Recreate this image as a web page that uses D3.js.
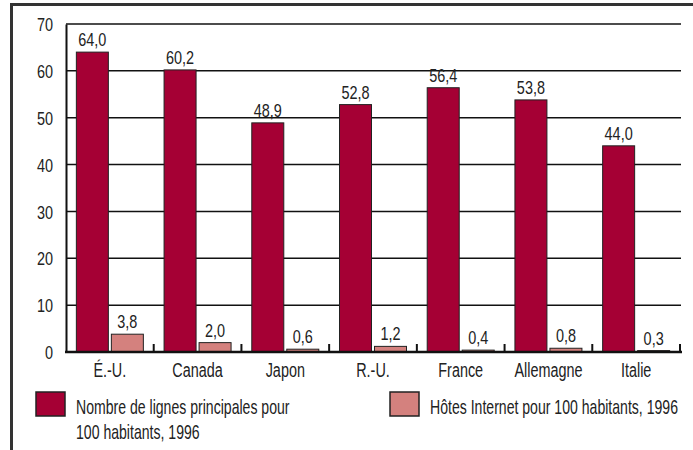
<!DOCTYPE html>
<html>
<head>
<meta charset="utf-8">
<script src="https://cdn.jsdelivr.net/npm/d3@7"></script>
<style>
  body { margin: 0; background: #fff; }
  text { font-family: "Liberation Sans", Arial, sans-serif; fill: #222; }
</style>
</head>
<body>
<div id="chart"></div>
<script>
// data
var pays = ["É.-U.", "Canada", "Japon", "R.-U.", "France", "Allemagne", "Italie"];
var lignes = [64.0, 60.2, 48.9, 52.8, 56.4, 53.8, 44.0];
var hotes = [3.8, 2.0, 0.6, 1.2, 0.4, 0.8, 0.3];
var yTicks = [0, 10, 20, 30, 40, 50, 60, 70];
var legende = ["Nombre de lignes principales pour|100 habitants, 1996", "Hôtes Internet pour 100 habitants, 1996"];

var fmt = d => d.toFixed(1).replace(".", ",");
var FONT = "Liberation Sans, Arial, sans-serif";

var svg = d3.select("#chart")
    .append("svg")
    .attr("width", 693)
    .attr("height", 450);

// outer frame (top + left)
svg.append("path")
    .attr("d", "M11.5,460 L11.5,4.5 L700,4.5")
    .attr("fill", "none")
    .attr("stroke", "#333")
    .attr("stroke-width", 3);

var x = d3.scaleBand()
    .domain(pays)
    .range([66, 680])
    .padding(0);

var y = d3.scaleLinear()
    .domain([0, 70])
    .range([352, 24]);

//gridlines
svg.append("g")
    .selectAll("line")
    .data(yTicks.filter(t => t > 0))
    .enter()
    .append("line")
    .attr("x1", 66)
    .attr("x2", 681)
    .attr("y1", d => y(d))
    .attr("y2", d => y(d))
    .attr("stroke", "#111")
    .attr("stroke-width", 1.5);

// y axis
var yAxis = d3.axisLeft(y).tickValues(yTicks).tickSize(0).tickPadding(13).tickFormat(d => d);
svg.append("g")
    .attr("transform", "translate(66,0)")
    .call(yAxis)
    .call(g => g.select(".domain").attr("stroke", "#111").attr("stroke-width", 2))
    .call(g => g.selectAll("text").attr("font-size", "19px").attr("dy", "0.35em").attr("class", "num")
        .style("font-family", FONT).attr("fill", "#222"));

var bw = 32, gap = 3;
var group = svg.append("g");

group.selectAll(".lignes")
    .data(pays)
    .enter()
    .append("rect")
    .attr("x", (d, i) => x(d) + x.bandwidth() / 2 - gap / 2 - bw)
    .attr("y", (d, i) => y(lignes[i]))
    .attr("width", bw)
    .attr("height", (d, i) => y(0) - y(lignes[i]))
    .attr("fill", "#a50034")
    .attr("stroke", "#222")
    .attr("stroke-width", 1);

group.selectAll(".hotes")
    .data(pays)
    .enter()
    .append("rect")
    .attr("x", (d, i) => x(d) + x.bandwidth() / 2 + gap / 2)
    .attr("y", (d, i) => y(hotes[i]))
    .attr("width", bw)
    .attr("height", (d, i) => y(0) - y(hotes[i]))
    .attr("fill", "#d4817e")
    .attr("stroke", "#222")
    .attr("stroke-width", 1);

// value labels
group.selectAll(".vl")
    .data(pays)
    .enter()
    .append("text")
    .attr("class", "num")
    .attr("x", (d, i) => x(d) + x.bandwidth() / 2 - gap / 2 - bw / 2)
    .attr("y", (d, i) => y(lignes[i]) - 6)
    .attr("text-anchor", "middle")
    .attr("font-size", "19px")
    .text((d, i) => fmt(lignes[i]));

group.selectAll(".vh")
    .data(pays)
    .enter()
    .append("text")
    .attr("class", "num")
    .attr("x", (d, i) => x(d) + x.bandwidth() / 2 + gap / 2 + bw / 2)
    .attr("y", (d, i) => y(hotes[i]) - 6)
    .attr("text-anchor", "middle")
    .attr("font-size", "19px")
    .text((d, i) => fmt(hotes[i]));

// baseline + category ticks
svg.append("line")
    .attr("x1", 65).attr("x2", 682)
    .attr("y1", 352).attr("y2", 352)
    .attr("stroke", "#111")
    .attr("stroke-width", 2.5);

svg.append("g")
    .selectAll("line")
    .data(pays)
    .enter()
    .append("line")
    .attr("x1", d => x(d) + x.bandwidth())
    .attr("x2", d => x(d) + x.bandwidth())
    .attr("y1", 352)
    .attr("y2", 344)
    .attr("stroke", "#111")
    .attr("stroke-width", 2);

var xAxis = d3.axisBottom(x).tickSize(0).tickPadding(11);
svg.append("g")
    .attr("transform", "translate(0,352)")
    .call(xAxis)
    .call(g => g.select(".domain").remove())
    .call(g => g.selectAll("text").attr("font-size", "20px").attr("class", "cat")
        .style("font-family", FONT).attr("fill", "#222"));

// legend
var leg = [{ x: 36, c: "#a50034" }, { x: 390, c: "#d4817e" }];
leg.forEach((l, i) => {
    svg.append("rect")
        .attr("x", l.x).attr("y", 392)
        .attr("width", 29).attr("height", 24)
        .attr("fill", l.c)
        .attr("stroke", "#222")
        .attr("stroke-width", 1.5);
    var t = svg.append("text")
        .attr("class", "leg")
        .attr("x", l.x + 40)
        .attr("y", 414)
        .attr("font-size", "21px");
    legende[i].split("|").forEach((s, k) => {
        t.append("tspan").attr("x", l.x + 40).attr("dy", k == 0 ? 0 : 25).text(s);
    });
});

// squeeze text to look like the narrow font of the original
var squeeze = { num: 0.76, cat: 0.72, leg: 0.67 };
svg.selectAll("text").each(function () {
    var f = squeeze[this.getAttribute("class")] || 0.8;
    var spans = d3.select(this).selectAll("tspan");
    var els = spans.empty() ? [this] : spans.nodes();
    els.forEach(el => {
        var w = el.getComputedTextLength();
        d3.select(el).attr("textLength", w * f).attr("lengthAdjust", "spacingAndGlyphs");
    });
});
</script>
</body>
</html>
